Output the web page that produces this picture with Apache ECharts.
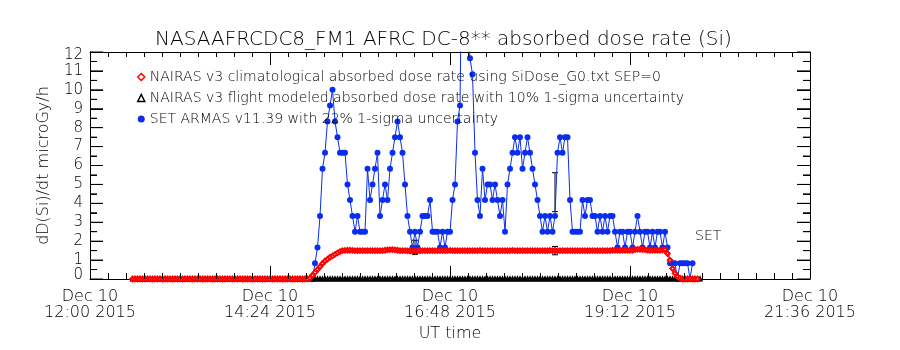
<!DOCTYPE html>
<html><head><meta charset="utf-8">
<script src="https://cdn.jsdelivr.net/npm/echarts@6/dist/echarts.min.js"></script>
<style>html,body{margin:0;padding:0;background:#fff}#c{width:900px;height:350px}</style>
</head><body><div id="c"></div>
<script>
const titleText = 'NASAAFRCDC8_FM1 AFRC DC-8** absorbed dose rate (Si)';
const yAxisName = 'dD(Si)/dt microGy/h';
const xAxisName = 'UT time';
const xTickDay = 'Dec 10';
const xTickYear = '2015';
const xMinMinutes = 0;     // 12:00 UT
const xMaxMinutes = 576;   // 21:36 UT
const xTickStep = 144;     // 2h24m
const yMin = 0, yMax = 12, yStep = 1;
const legendNames = [
  'NAIRAS v3 climatological absorbed dose rate using SiDose_G0.txt SEP=0',
  'NAIRAS v3 flight modeled absorbed dose rate with 10% 1-sigma uncertainty',
  'SET ARMAS v11.39 with 22% 1-sigma uncertainty'
];
const setLabel = 'SET';
const cadenceMin = 2;
const modelStart = '12:34';
const setStart = '14:58';

const nairasClim = [
 0,0,0,0,0,0,0,0,0,0,
 0,0,0,0,0,0,0,0,0,0,
 0,0,0,0,0,0,0,0,0,0,
 0,0,0,0,0,0,0,0,0,0,
 0,0,0,0,0,0,0,0,0,0,
 0,0,0,0,0,0,0,0,0,0,
 0,0,0,0,0,0,0,0,0,0,
 0,
 0.05,0.2,0.35,0.5,0.65,0.82,0.95,1.05,1.15,1.22,1.3,1.38,1.45,
 1.5,1.51,1.52,1.52,1.51,1.5,1.5,1.5,1.5,1.5,1.5,1.5,1.5,1.5,1.5,1.5,1.5,
 1.52,1.54,1.55,1.55,1.54,1.52,1.5,1.5,
 1.5,1.49,1.48,1.48,1.48,1.48,1.49,1.5,1.5,1.5,1.5,1.5,1.5,1.5,1.5,1.5,
 1.5,1.5,1.51,1.5,1.5,1.5,1.5,1.5,1.5,1.5,
 1.5,1.5,1.5,1.5,1.51,1.5,1.5,1.5,1.5,1.5,
 1.5,1.5,1.5,1.5,1.5,1.5,1.5,1.51,1.5,1.5,
 1.5,1.5,1.5,1.5,1.5,1.5,1.5,1.5,1.5,1.5,
 1.5,1.5,1.51,1.5,1.5,1.5,1.5,1.5,1.5,1.5,
 1.5,1.5,1.5,1.5,1.5,1.5,1.5,1.5,1.5,1.5,
 1.5,1.5,1.5,1.5,1.5,1.5,1.5,
 1.52,1.52,1.52,1.52,1.52,1.52,1.52,1.52,
 1.52,1.55,1.57,1.57,1.56,1.55,1.53,1.52,1.52,
 1.52,1.52,1.52,1.53,1.55,
 1.35,1.0,0.55,0.3,0.12,0.05,
 0,0,0,0,0,0,0
];

const nairasFlight = [
 0,0,0,0,0,0,0,0,0,0, 0,0,0,0,0,0,0,0,0,0,
 0,0,0,0,0,0,0,0,0,0, 0,0,0,0,0,0,0,0,0,0,
 0,0,0,0,0,0,0,0,0,0, 0,0,0,0,0,0,0,0,0,0,
 0,0,0,0,0,0,0,0,0,0, 0,0,0,0,0,0,0,0,0,0,
 0,0,0,0,0,0,0,0,0,0, 0,0,0,0,0,0,0,0,0,0,
 0,0,0,0,0,0,0,0,0,0, 0,0,0,0,0,0,0,0,0,0,
 0,0,0,0,0,0,0,0,0,0, 0,0,0,0,0,0,0,0,0,0,
 0,0,0,0,0,0,0,0,0,0, 0,0,0,0,0,0,0,0,0,0,
 0,0,0,0,0,0,0,0,0,0, 0,0,0,0,0,0,0,0,0,0,
 0,0,0,0,0,0,0,0,0,0, 0,0,0,0,0,0,0,0,0,0,
 0,0,0,0,0,0,0,0,0,0, 0,0,0,0,0,0,0,0,0,0,
 0,0,0,0,0,0,0,0
];

const setArmas = [
 0,0.83,1.67,3.33,5.83,6.67,8.33,9.17,10,8.33,
 7.5,6.67,6.67,6.67,5,4.17,3.33,2.5,3.33,2.5,
 2.5,2.5,5.83,4.17,5,5.83,6.67,3.33,4.17,5,
 4.17,5.83,6.67,7.5,8.33,7.5,6.67,5,3.33,2.5,
 1.67,2.5,1.67,2.5,3.33,3.33,3.33,4.17,2.5,2.5,
 2.5,1.67,2.5,1.67,2.5,2.5,4.17,5,8.33,9.17,
 20,24,14,11.67,10.83,6.67,4.17,3.33,5.83,4.17,
 5,5,4.17,5,4.17,3.33,4.17,2.5,5,5.83,
 6.67,7.5,6.67,7.5,5.83,6.67,7.5,6.67,5.83,5,
 4.17,3.33,2.5,3.33,2.5,3.33,2.5,3.33,6.67,7.5,
 6.67,7.5,7.5,4.17,2.5,2.5,2.5,2.5,4.17,3.33,
 4.17,4.17,3.33,3.33,2.5,3.33,2.5,3.33,2.5,3.33,
 3.33,2.5,1.67,2.5,2.5,1.67,2.5,2.5,1.67,2.5,
 3.33,2.5,1.67,2.5,2.5,1.67,2.5,1.67,2.5,2.5,
 1.67,2.5,1.67,0.83,0.83,0.83,0,0.83,0.83,0.83,
 0.83,0,0.83
];

const errTimes = ['16:20', '18:12'];
const climErrLow = [1.35, 1.28];
const climErrHigh = [1.65, 1.72];
const setErrLow = [1.3, 3.56];
const setErrHigh = [2.05, 5.62];

function toMin(hhmm) { const p = hhmm.split(':'); return (+p[0] - 12) * 60 + (+p[1]); }
function fmtTick(m) {
  const tot = 12 * 60 + Math.round(m);
  const h = Math.floor(tot / 60), mm = tot % 60;
  return xTickDay + '\n' + String(h).padStart(2, '0') + ':' + String(mm).padStart(2, '0') + ' ' + xTickYear;
}
function fmtY(v) {
  if (v === yMax) return '{t|' + v + '}';
  if (v === yMin) return '{b|' + v + '}';
  return String(v);
}
const series = (arr, start) => arr.map((v, i) => [toMin(start) + i * cadenceMin, v]);

const FONT = 'DejaVu Sans';
const FW = 200;
const RED = '#ff0000', BLUE = '#0a2ef0', BLACK = '#000';
const GRID = { left: 90, right: 90, top: 52, bottom: 71 };

function errItem(params, api) {
  const x = api.value(0), lo = api.value(1), hi = api.value(2);
  const a = api.coord([x, lo]), b = api.coord([x, hi]);
  const w = 3, st = { stroke: '#000', lineWidth: 1 };
  return { type: 'group', children: [
    { type: 'line', shape: { x1: a[0], y1: a[1], x2: b[0], y2: b[1] }, style: st },
    { type: 'line', shape: { x1: a[0] - w, y1: a[1], x2: a[0] + w, y2: a[1] }, style: st },
    { type: 'line', shape: { x1: b[0] - w, y1: b[1], x2: b[0] + w, y2: b[1] }, style: st }
  ]};
}

function xAxisDef(pos, withLabels, minorLen) {
  const d = {
    type: 'value', position: pos, min: xMinMinutes, max: xMaxMinutes, interval: xTickStep,
    axisLine: { show: true, onZero: false, lineStyle: { color: BLACK, width: 1 } },
    axisTick: { show: true, inside: true, length: 13, lineStyle: { color: BLACK, width: 1 } },
    minorTick: { show: true, splitNumber: 10, length: minorLen, lineStyle: { color: BLACK, width: 1 } },
    splitLine: { show: false }, minorSplitLine: { show: false },
    axisLabel: { show: false }
  };
  if (withLabels) {
    d.name = xAxisName; d.nameLocation = 'middle'; d.nameGap = 46;
    d.nameTextStyle = { fontFamily: FONT, fontSize: 16, fontWeight: FW, color: BLACK };
    d.axisLabel = { show: true, margin: 10, formatter: fmtTick, fontFamily: FONT, fontSize: 16,
      fontWeight: FW, lineHeight: 16, color: BLACK, showMinLabel: true, showMaxLabel: true };
  }
  return d;
}
function yAxisDef(pos, withLabels) {
  const d = {
    type: 'value', position: pos, min: yMin, max: yMax, interval: yStep,
    axisLine: { show: true, onZero: false, lineStyle: { color: BLACK, width: 1 } },
    axisTick: { show: true, inside: true, length: 13, lineStyle: { color: BLACK, width: 1 } },
    minorTick: { show: true, splitNumber: 2, length: 7, lineStyle: { color: BLACK, width: 1 } },
    splitLine: { show: false }, minorSplitLine: { show: false },
    axisLabel: { show: false }
  };
  if (withLabels) {
    d.name = yAxisName; d.nameLocation = 'middle'; d.nameGap = 38; d.nameRotate = 90;
    d.nameTextStyle = { fontFamily: FONT, fontSize: 16, fontWeight: FW, color: BLACK };
    d.axisLabel = { show: true, margin: 7, formatter: fmtY, fontFamily: FONT, fontSize: 15,
      fontWeight: FW, color: BLACK, showMinLabel: true, showMaxLabel: true,
      rich: {
        t: { fontFamily: FONT, fontSize: 15, fontWeight: FW, color: BLACK, padding: [7, 0, 0, 0] },
        b: { fontFamily: FONT, fontSize: 15, fontWeight: FW, color: BLACK, padding: [0, 0, 7, 0] }
      } };
  }
  return d;
}

const chart = echarts.init(document.getElementById('c'));

// Frame tick marks drawn as broken line segments on the same axes (pixel lengths converted through the axis scale).
const plotW = chart.getWidth() - GRID.left - GRID.right;
const plotH = chart.getHeight() - GRID.top - GRID.bottom;
const xPerPx = (xMaxMinutes - xMinMinutes) / plotW;
const yPerPx = (yMax - yMin) / plotH;
const tickSegs = [];
const xMinorStep = xTickStep / 10, yMinorStep = yStep / 2;
for (let k = 0; k * xMinorStep <= xMaxMinutes - xMinMinutes + 1e-9; k++) {
  const v = xMinMinutes + k * xMinorStep + 0.5 * xPerPx;
  const major = k % 10 === 0;
  tickSegs.push([v, yMin], [v, yMin + (major ? 13 : 6) * yPerPx], null);
  tickSegs.push([v, yMax], [v, yMax - (major ? 13 : 5) * yPerPx], null);
}
for (let k = 0; k * yMinorStep <= yMax - yMin + 1e-9; k++) {
  const v = yMin + k * yMinorStep;
  const len = (k % 2 === 0 ? 13 : 7) * xPerPx;
  tickSegs.push([xMinMinutes, v], [xMinMinutes + len, v], null);
  tickSegs.push([xMaxMinutes, v], [xMaxMinutes - len, v], null);
}

chart.setOption({
  animation: false,
  backgroundColor: '#fff',
  title: [
    { text: titleText, left: 150, top: 25,
      textStyle: { fontFamily: FONT, fontSize: 20, fontWeight: FW, color: BLACK } },
    { text: setLabel, left: 695, top: 229, padding: 0,
      textStyle: { fontFamily: FONT, fontSize: 14, fontWeight: FW, color: BLACK } }
  ],
  grid: GRID,
  legend: {
    left: 137, top: 70, orient: 'vertical', itemGap: 7, itemWidth: 7, itemHeight: 7, padding: 0,
    textStyle: { fontFamily: FONT, fontSize: 14, fontWeight: FW, color: BLACK },
    data: [
      { name: legendNames[0], icon: 'diamond', itemStyle: { color: '#fff', borderColor: RED, borderWidth: 1.5 } },
      { name: legendNames[1], icon: 'triangle', itemStyle: { color: '#fff', borderColor: BLACK, borderWidth: 1.5 } },
      { name: legendNames[2], icon: 'circle', itemStyle: { color: BLUE } }
    ]
  },
  xAxis: [ xAxisDef('bottom', true, 6), xAxisDef('top', false, 5) ],
  yAxis: [ yAxisDef('left', true), yAxisDef('right', false) ],
  series: [
    { name: legendNames[2], type: 'line', data: series(setArmas, setStart),
      symbol: 'circle', symbolSize: 6, showSymbol: true, showAllSymbol: true, clip: true,
      itemStyle: { color: BLUE }, lineStyle: { color: BLUE, width: 1 } },
    { name: legendNames[1], type: 'line', data: series(nairasFlight, modelStart),
      symbol: 'emptyTriangle', symbolSize: 3, showSymbol: true, showAllSymbol: true,
      itemStyle: { color: BLACK, borderWidth: 1 }, lineStyle: { color: BLACK, width: 1 } },
    { name: legendNames[0], type: 'line', data: series(nairasClim, modelStart),
      symbol: 'emptyDiamond', symbolSize: 4.5, showSymbol: true, showAllSymbol: true,
      itemStyle: { color: RED, borderWidth: 1 }, lineStyle: { color: RED, width: 1 } },
    { name: 'err', type: 'custom', renderItem: errItem,
      encode: { x: 0, y: [1, 2] },
      data: errTimes.map((t, i) => [toMin(t), climErrLow[i], climErrHigh[i]])
        .concat(errTimes.map((t, i) => [toMin(t), setErrLow[i], setErrHigh[i]])) },
    { name: 'frameTicks', type: 'line', data: tickSegs, connectNulls: false, clip: false,
      showSymbol: false, symbol: 'none', silent: true, z: 10,
      lineStyle: { color: BLACK, width: 1 } }
  ]
});
</script>
</body></html>
